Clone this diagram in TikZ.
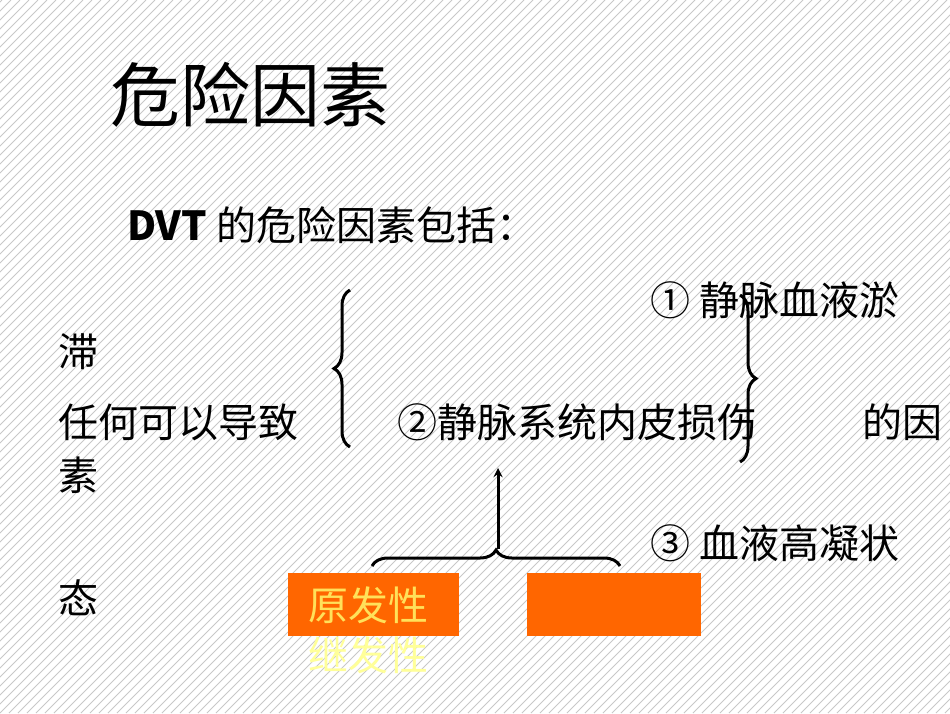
\documentclass[tikz,border=0pt]{standalone}
\usepackage{fontspec}
\setmainfont{Noto Sans CJK SC}
\usetikzlibrary{positioning,decorations.pathreplacing}
\definecolor{boxorange}{HTML}{FF6600}
\definecolor{hatchgray}{HTML}{C8C8C8}
\definecolor{primtext}{HTML}{FFE15A}
\definecolor{sectext}{HTML}{FFFF99}
\tikzset{txt/.style={anchor=west, inner sep=0pt, font=\fontsize{40}{40}\selectfont},
  brc/.style={line width=3pt, decorate, decoration={brace, amplitude=16pt}},
  obox/.style={fill=boxorange, draw=none}}
\begin{document}
\begin{tikzpicture}[x=1pt,y=-1pt]
\useasboundingbox (0,0) rectangle (950,713);
\begin{scope}
\clip (0,0) rectangle (950,713);
\foreach \k in {-720,-711,...,950}
  \draw[hatchgray, line width=0.9pt] (\k,713) -- (\k+713,0);
\end{scope}
\node[anchor=west, inner sep=0pt, font=\fontsize{70}{70}\selectfont] (title) at (110,95) {危险因素};
\node[txt] (intro) at (127,225) {\textbf{DVT} 的危险因素包括：};
\node[txt] (f1) at (650,300) {① 静脉血液淤};
\node[txt] (zhi) at (58,352) {滞};
\node[txt] (any) at (58,422) {任何可以导致};
\node[txt] (f2) at (397,422) {②静脉系统内皮损伤};
\node[txt] (de) at (862,422) {的因};
\node[txt] (su) at (58,475) {素};
\node[txt] (f3) at (650,543) {③ 血液高凝状};
\node[txt] (tai) at (58,598) {态};
\node[obox, minimum width=171, minimum height=63, anchor=north west] (prim) at (288,573) {};
\node[obox, minimum width=174, minimum height=63, anchor=north west] (sec) at (527,573) {};
\node[font=\fontsize{40}{40}\selectfont, text=primtext, inner sep=0pt] (ptxt) at (368,605) {原发性};
\node[font=\fontsize{40}{40}\selectfont, text=sectext, inner sep=0pt] (stxt) at (368,655) {继发性};
\coordinate (lb1) at (350,447);
\coordinate (lb2) at (350,290);
\coordinate (rb1) at (740,295);
\coordinate (rb2) at (740,462);
\coordinate (bb1) at (372,566);
\coordinate (bb2) at (620,566);
\coordinate (tip) at (498,549);
\coordinate (head) at (498,468);
\draw[brc] (lb1) -- (lb2);
\draw[brc] (rb1) -- (rb2);
\draw[brc] (bb1) -- (bb2);
\draw[line width=3pt,-stealth] (tip) -- (head);
\end{tikzpicture}
\end{document}
